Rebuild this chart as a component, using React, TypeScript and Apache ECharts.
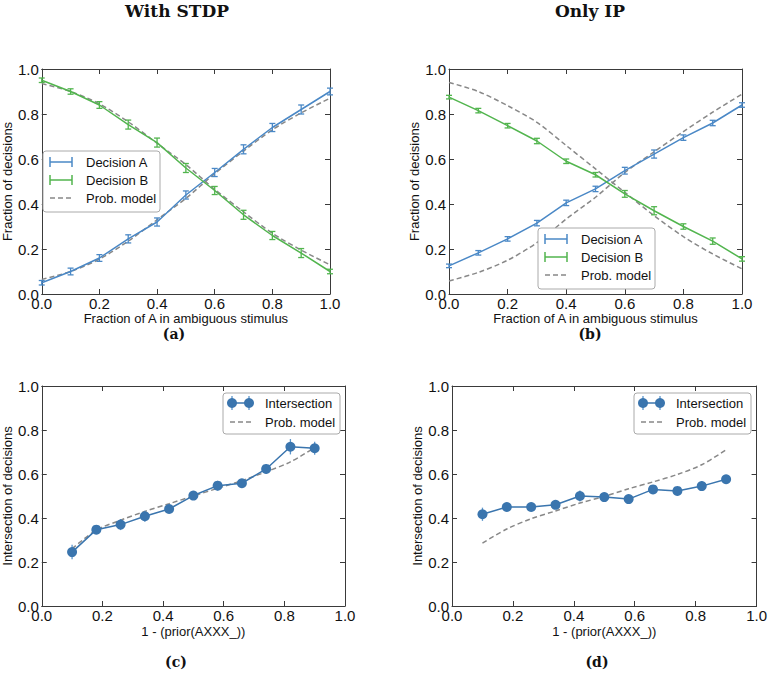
import React, { useEffect, useRef } from "react";
import * as echarts from "echarts";

// ---------- data ----------
const fractionA = [0, 0.1, 0.2, 0.3, 0.4, 0.5, 0.6, 0.7, 0.8, 0.9, 1.0];

const stdpDecisionA = [0.05, 0.1, 0.16, 0.245, 0.32, 0.44, 0.54, 0.643, 0.74, 0.82, 0.9];
const stdpDecisionAErr = [0.01, 0.015, 0.015, 0.018, 0.018, 0.018, 0.018, 0.02, 0.018, 0.02, 0.015];
const stdpDecisionB = [0.95, 0.9, 0.84, 0.753, 0.673, 0.56, 0.46, 0.352, 0.26, 0.182, 0.1];
const stdpDecisionBErr = [0.01, 0.012, 0.015, 0.02, 0.02, 0.02, 0.018, 0.02, 0.018, 0.02, 0.01];
const stdpModelA = [0.065, 0.1, 0.155, 0.235, 0.33, 0.425, 0.535, 0.635, 0.73, 0.805, 0.87];
const stdpModelB = [0.935, 0.9, 0.845, 0.765, 0.67, 0.575, 0.465, 0.365, 0.27, 0.195, 0.13];

const ipDecisionA = [0.125, 0.183, 0.245, 0.315, 0.405, 0.467, 0.548, 0.622, 0.695, 0.76, 0.84];
const ipDecisionAErr = [0.008, 0.01, 0.01, 0.012, 0.012, 0.012, 0.015, 0.018, 0.012, 0.012, 0.01];
const ipDecisionB = [0.875, 0.815, 0.748, 0.68, 0.59, 0.53, 0.445, 0.37, 0.3, 0.235, 0.156];
const ipDecisionBErr = [0.008, 0.01, 0.01, 0.012, 0.01, 0.01, 0.015, 0.018, 0.012, 0.014, 0.01];
const ipModelA = [0.058, 0.096, 0.15, 0.228, 0.333, 0.43, 0.54, 0.632, 0.722, 0.808, 0.888];
const ipModelB = [0.94, 0.9, 0.837, 0.763, 0.66, 0.556, 0.452, 0.348, 0.255, 0.178, 0.112];

const priorX = [0.1, 0.18, 0.26, 0.34, 0.42, 0.5, 0.58, 0.66, 0.74, 0.82, 0.9];

const stdpIntersection = [0.245, 0.347, 0.37, 0.408, 0.441, 0.502, 0.547, 0.558, 0.623, 0.724, 0.717];
const stdpIntersectionErr = [0.033, 0.02, 0.025, 0.025, 0.015, 0.015, 0.022, 0.015, 0.022, 0.035, 0.03];
const stdpIntersectionModel = [0.26, 0.345, 0.39, 0.43, 0.465, 0.5, 0.535, 0.57, 0.61, 0.655, 0.72];

const ipIntersection = [0.417, 0.45, 0.45, 0.46, 0.5, 0.495, 0.486, 0.53, 0.523, 0.545, 0.576];
const ipIntersectionErr = [0.03, 0.015, 0.015, 0.012, 0.025, 0.015, 0.012, 0.02, 0.012, 0.022, 0.015];
const ipIntersectionModel = [0.286, 0.35, 0.397, 0.432, 0.468, 0.498, 0.533, 0.564, 0.598, 0.642, 0.71];

const columnTitles = ["With STDP", "Only IP"];
const captions = ["(a)", "(b)", "(c)", "(d)"];
const legendDecision = ["Decision A", "Decision B", "Prob. model"];
const legendIntersection = ["Intersection", "Prob. model"];

// ---------- style ----------
const SANS = '"Liberation Sans", Arial, sans-serif';
const SERIF = '"DejaVu Serif", serif';
const BLUE = "#4a88c6";
const GREEN = "#52b54e";
const DARKBLUE = "#3a75ae";
const ERRBLUE = "#5a95cc";
const GRAY = "#888888";
const AXIS = "#3a3a3a";

const grids = [
  { left: 38, top: 69, width: 292, height: 225 },
  { left: 449, top: 69, width: 293, height: 225 },
  { left: 39, top: 386, width: 306, height: 220 },
  { left: 452, top: 386, width: 306, height: 220 },
];

const xNames = [
  "Fraction of A in ambiguous stimulus",
  "Fraction of A in ambiguous stimulus",
  "1 - (prior(AXXX_))",
  "1 - (prior(AXXX_))",
];
const yNames = [
  "Fraction of decisions",
  "Fraction of decisions",
  "Intersection of decisions",
  "Intersection of decisions",
];
const yGaps = [24, 23, 25, 24];
const xGaps = [17, 17, 19, 19];

function zip(xs: number[], ys: number[]) {
  return xs.map((x, i) => [x, ys[i]]);
}
function zip3(xs: number[], ys: number[], es: number[]) {
  return xs.map((x, i) => [x, ys[i], es[i]]);
}

function errSeries(gi: number, data: number[][], color: string, cap: number, z = 4) {
  return {
    type: "custom",
    xAxisIndex: gi * 2,
    yAxisIndex: gi * 2,
    silent: true,
    z,
    data,
    renderItem: (params: any, api: any) => {
      const x = api.value(0);
      const y = api.value(1);
      const e = api.value(2);
      const p1 = api.coord([x, y - e]);
      const p2 = api.coord([x, y + e]);
      const st = { stroke: color, lineWidth: 1.3 };
      const children: any[] = [
        { type: "line", shape: { x1: p1[0], y1: p1[1], x2: p2[0], y2: p2[1] }, style: st },
      ];
      if (cap > 0) {
        children.push({ type: "line", shape: { x1: p1[0] - cap, y1: p1[1], x2: p1[0] + cap, y2: p1[1] }, style: st });
        children.push({ type: "line", shape: { x1: p2[0] - cap, y1: p2[1], x2: p2[0] + cap, y2: p2[1] }, style: st });
      }
      return { type: "group", children };
    },
  };
}

function lineSeries(gi: number, data: number[][], color: string, opts: any = {}) {
  return {
    type: "line",
    xAxisIndex: gi * 2,
    yAxisIndex: gi * 2,
    data,
    silent: true,
    showSymbol: false,
    symbol: "none",
    lineStyle: { color, width: 1.5, type: "solid" },
    itemStyle: { color },
    z: 3,
    ...opts,
  };
}

function dashedSeries(gi: number, data: number[][]) {
  return lineSeries(gi, data, GRAY, {
    smooth: 0.3,
    lineStyle: { color: GRAY, width: 1.5, type: [5, 3] },
    z: 2,
  });
}

function markerSeries(gi: number, data: number[][]) {
  return lineSeries(gi, data, DARKBLUE, {
    showSymbol: true,
    symbol: "circle",
    symbolSize: 10,
    itemStyle: { color: DARKBLUE, borderColor: DARKBLUE, borderWidth: 0 },
    z: 5,
  });
}

function decisionLegend(x: number, y: number): any[] {
  const w = 117;
  const h = 61;
  const els: any[] = [
    { type: "rect", shape: { x, y, width: w, height: h, r: 3 }, style: { fill: "#fff", stroke: "#aaa", lineWidth: 1 }, z: 50 },
  ];
  const rows = [y + 11, y + 29, y + 47];
  const cols = [BLUE, GREEN];
  for (let i = 0; i < 2; i++) {
    const ry = rows[i];
    const st = { stroke: cols[i], lineWidth: 1.5 };
    els.push({ type: "line", shape: { x1: x + 7, y1: ry, x2: x + 29, y2: ry }, style: st, z: 51 });
    els.push({ type: "line", shape: { x1: x + 7, y1: ry - 5, x2: x + 7, y2: ry + 5 }, style: st, z: 51 });
    els.push({ type: "line", shape: { x1: x + 29, y1: ry - 5, x2: x + 29, y2: ry + 5 }, style: st, z: 51 });
  }
  els.push({
    type: "line",
    shape: { x1: x + 7, y1: rows[2], x2: x + 29, y2: rows[2] },
    style: { stroke: GRAY, lineWidth: 1.5, lineDash: [5, 3] },
    z: 51,
  });
  legendDecision.forEach((t, i) => {
    els.push({
      type: "text",
      x: x + 43,
      y: rows[i],
      style: { text: t, font: `13px ${SANS}`, fill: "#111", textAlign: "left", textVerticalAlign: "middle" },
      z: 52,
    });
  });
  return els;
}

function intersectionLegend(x: number, y: number): any[] {
  const w = 117;
  const h = 41;
  const els: any[] = [
    { type: "rect", shape: { x, y, width: w, height: h, r: 3 }, style: { fill: "#fff", stroke: "#aaa", lineWidth: 1 }, z: 50 },
  ];
  const r1 = y + 10;
  const r2 = y + 29;
  const st = { stroke: DARKBLUE, lineWidth: 1.5 };
  const ax = x + 9;
  const bx = x + 26;
  els.push({ type: "line", shape: { x1: ax, y1: r1, x2: bx, y2: r1 }, style: st, z: 51 });
  els.push({ type: "line", shape: { x1: ax, y1: r1 - 7, x2: ax, y2: r1 + 7 }, style: { stroke: ERRBLUE, lineWidth: 1.3 }, z: 51 });
  els.push({ type: "line", shape: { x1: bx, y1: r1 - 7, x2: bx, y2: r1 + 7 }, style: { stroke: ERRBLUE, lineWidth: 1.3 }, z: 51 });
  els.push({ type: "circle", shape: { cx: ax, cy: r1, r: 5 }, style: { fill: DARKBLUE }, z: 52 });
  els.push({ type: "circle", shape: { cx: bx, cy: r1, r: 5 }, style: { fill: DARKBLUE }, z: 52 });
  els.push({
    type: "line",
    shape: { x1: x + 7, y1: r2, x2: x + 29, y2: r2 },
    style: { stroke: GRAY, lineWidth: 1.5, lineDash: [5, 3] },
    z: 51,
  });
  legendIntersection.forEach((t, i) => {
    els.push({
      type: "text",
      x: x + 42,
      y: i === 0 ? r1 : r2,
      style: { text: t, font: `13px ${SANS}`, fill: "#111", textAlign: "left", textVerticalAlign: "middle" },
      z: 52,
    });
  });
  return els;
}

function buildOption() {
  const xAxis: any[] = [];
  const yAxis: any[] = [];
  grids.forEach((_, gi) => {
    const lineStyle = { color: AXIS, width: 1 };
    xAxis.push({
      type: "value",
      gridIndex: gi,
      position: "bottom",
      min: 0,
      max: 1,
      interval: 0.2,
      name: xNames[gi],
      nameLocation: "middle",
      nameGap: xGaps[gi],
      nameTextStyle: { fontFamily: SANS, fontSize: 13, color: "#111" },
      axisLine: { show: true, onZero: false, lineStyle },
      axisTick: { show: true, inside: true, length: 5, lineStyle },
      axisLabel: { formatter: (v: number) => v.toFixed(1), fontFamily: SANS, fontSize: 15, color: "#111", margin: 2 },
      splitLine: { show: false },
    });
    xAxis.push({
      type: "value",
      gridIndex: gi,
      position: "top",
      min: 0,
      max: 1,
      interval: 0.2,
      axisLine: { show: true, onZero: false, lineStyle },
      axisTick: { show: true, inside: true, length: 5, lineStyle },
      axisLabel: { show: false },
      splitLine: { show: false },
    });
    yAxis.push({
      type: "value",
      gridIndex: gi,
      position: "left",
      min: 0,
      max: 1,
      interval: 0.2,
      name: yNames[gi],
      nameLocation: "middle",
      nameGap: yGaps[gi],
      nameTextStyle: { fontFamily: SANS, fontSize: 13, color: "#111" },
      axisLine: { show: true, onZero: false, lineStyle },
      axisTick: { show: true, inside: true, length: 5, lineStyle },
      axisLabel: { formatter: (v: number) => v.toFixed(1), fontFamily: SANS, fontSize: 15, color: "#111", margin: 3 },
      splitLine: { show: false },
    });
    yAxis.push({
      type: "value",
      gridIndex: gi,
      position: "right",
      min: 0,
      max: 1,
      interval: 0.2,
      axisLine: { show: true, onZero: false, lineStyle },
      axisTick: { show: true, inside: true, length: 5, lineStyle },
      axisLabel: { show: false },
      splitLine: { show: false },
    });
  });

  const series: any[] = [
    // (a)
    dashedSeries(0, zip(fractionA, stdpModelA)),
    dashedSeries(0, zip(fractionA, stdpModelB)),
    lineSeries(0, zip(fractionA, stdpDecisionA), BLUE),
    lineSeries(0, zip(fractionA, stdpDecisionB), GREEN),
    errSeries(0, zip3(fractionA, stdpDecisionA, stdpDecisionAErr), BLUE, 3),
    errSeries(0, zip3(fractionA, stdpDecisionB, stdpDecisionBErr), GREEN, 3),
    // (b)
    dashedSeries(1, zip(fractionA, ipModelA)),
    dashedSeries(1, zip(fractionA, ipModelB)),
    lineSeries(1, zip(fractionA, ipDecisionA), BLUE),
    lineSeries(1, zip(fractionA, ipDecisionB), GREEN),
    errSeries(1, zip3(fractionA, ipDecisionA, ipDecisionAErr), BLUE, 3),
    errSeries(1, zip3(fractionA, ipDecisionB, ipDecisionBErr), GREEN, 3),
    // (c)
    dashedSeries(2, zip(priorX, stdpIntersectionModel)),
    errSeries(2, zip3(priorX, stdpIntersection, stdpIntersectionErr), ERRBLUE, 0, 4),
    markerSeries(2, zip(priorX, stdpIntersection)),
    // (d)
    dashedSeries(3, zip(priorX, ipIntersectionModel)),
    errSeries(3, zip3(priorX, ipIntersection, ipIntersectionErr), ERRBLUE, 0, 4),
    markerSeries(3, zip(priorX, ipIntersection)),
  ];

  const textStyle = (size: number) => ({ font: `bold ${size}px ${SERIF}`, fill: "#111", textAlign: "center", textVerticalAlign: "middle" });
  const graphic: any[] = [
    { type: "text", x: 177, y: 11, style: { text: columnTitles[0], ...textStyle(17) } },
    { type: "text", x: 590, y: 11, style: { text: columnTitles[1], ...textStyle(17) } },
    { type: "text", x: 174, y: 334, style: { text: captions[0], ...textStyle(14) } },
    { type: "text", x: 590, y: 334, style: { text: captions[1], ...textStyle(14) } },
    { type: "text", x: 176, y: 662, style: { text: captions[2], ...textStyle(14) } },
    { type: "text", x: 597, y: 662, style: { text: captions[3], ...textStyle(14) } },
    ...decisionLegend(43, 151),
    ...decisionLegend(538, 228),
    ...intersectionLegend(223, 393),
    ...intersectionLegend(634, 393),
  ];

  return {
    animation: false,
    backgroundColor: "#ffffff",
    grid: grids.map((g) => ({ ...g, containLabel: false })),
    xAxis,
    yAxis,
    series,
    graphic,
  };
}

export default function App() {
  const ref = useRef<HTMLDivElement>(null);
  useEffect(() => {
    if (!ref.current) return;
    const chart = echarts.init(ref.current, null, { renderer: "svg" });
    chart.setOption(buildOption() as any);
    return () => chart.dispose();
  }, []);
  return (
    <div
      ref={ref}
      style={{ position: "fixed", left: 0, top: 0, width: 770, height: 676, background: "#fff" }}
    />
  );
}
